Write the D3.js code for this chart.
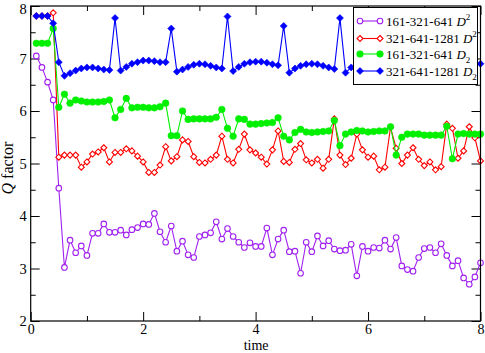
<!DOCTYPE html>
<html><head><meta charset="utf-8">
<script src="https://cdn.jsdelivr.net/npm/d3@7"></script>
<style>
body{margin:0;background:#fff;}
svg{display:block;font-family:"Liberation Serif","Times New Roman",serif;}
</style></head>
<body><svg id="c" width="485" height="353"></svg>
<script>
const times = d3.range(1, 81).map(i => i / 10);
const purpleD2_161 = [7.05,6.83,6.55,6.21,4.53,3.02,3.54,3.30,3.43,3.25,
 3.67,3.67,3.85,3.69,3.69,3.73,3.64,3.74,3.78,3.85,
 3.84,4.05,3.70,3.50,3.81,3.33,3.52,3.26,3.21,3.61,
 3.64,3.68,3.89,3.56,3.76,3.61,3.50,3.40,3.49,3.42,
 3.42,3.77,3.26,3.56,3.73,3.32,3.33,2.91,3.50,3.32,
 3.62,3.43,3.53,3.37,3.34,3.35,3.46,2.86,3.42,3.33,
 3.40,3.39,3.54,3.37,3.59,3.05,2.98,2.95,3.21,3.38,
 3.40,3.30,3.47,3.25,3.05,3.15,2.82,2.70,2.84,3.11];
const redD2_321 = [7.81,7.81,7.81,7.87,5.12,5.16,5.16,5.16,4.93,5.03,
 5.18,5.22,5.30,5.03,5.21,5.21,5.28,5.24,5.14,5.03,
 4.83,4.83,4.97,5.32,5.05,5.13,5.45,5.42,5.13,5.02,
 5.01,5.08,5.16,5.52,5.08,5.01,5.27,5.56,5.26,5.20,
 5.12,4.99,5.26,5.62,5.04,5.02,5.27,5.38,5.07,5.01,
 5.08,4.91,5.08,5.85,5.16,4.98,5.10,5.56,5.26,5.12,
 5.14,4.88,4.93,5.69,5.29,5.00,5.16,5.30,5.08,4.96,
 5.03,4.88,4.94,5.75,5.67,5.10,5.24,5.70,5.49,5.05];
const greenDsub_161 = [7.29,7.29,7.29,7.57,6.07,6.32,6.15,6.21,6.19,6.17,
 6.17,6.17,6.18,6.21,5.87,6.03,6.24,6.06,6.07,6.07,
 6.06,6.06,6.08,6.15,5.53,5.53,6.00,5.84,5.85,5.85,
 5.85,5.85,5.88,6.03,5.67,5.52,5.85,5.84,5.75,5.75,
 5.76,5.77,5.78,5.87,5.52,5.45,5.59,5.65,5.60,5.59,
 5.60,5.61,5.62,5.82,5.34,5.56,5.60,5.63,5.62,5.60,
 5.61,5.62,5.62,5.70,5.16,5.50,5.56,5.56,5.56,5.54,
 5.54,5.54,5.54,5.71,5.09,5.56,5.57,5.56,5.56,5.56];
const blueDsub_321 = [7.81,7.81,7.81,7.67,6.93,6.67,6.72,6.77,6.81,6.83,
 6.83,6.81,6.79,6.78,7.77,6.77,6.84,6.90,6.93,6.96,
 6.96,6.95,6.93,6.93,7.57,6.75,6.79,6.84,6.88,6.90,
 6.89,6.86,6.83,6.81,7.80,6.76,6.84,6.90,6.93,6.94,
 6.94,6.92,6.89,6.87,7.62,6.73,6.81,6.86,6.89,6.90,
 6.89,6.86,6.83,6.80,7.77,6.73,6.83,6.88,6.91,6.92,
 6.92,6.90,6.87,6.84,7.70,6.74,6.82,6.87,6.90,6.91,
 6.91,6.89,6.86,6.83,7.77,6.74,6.80,6.85,6.88,6.90];
const seriesNames = ["161-321-641", "321-641-1281", "161-321-641", "321-641-1281"];
const xTickLabels = [0, 2, 4, 6, 8];
const yTickLabels = [2, 3, 4, 5, 6, 7, 8];

const svg = d3.select("#c");
const L = 30.7, R = 480.5, T = 6, B = 321;
const x = d3.scaleLinear().domain([0, 8]).range([L, R]);
const y = d3.scaleLinear().domain([2, 8]).range([B, T]);

function styleAxis(g){
  g.select(".domain").remove();
  g.selectAll(".tick line").attr("stroke","#000").attr("stroke-width",1);
  g.selectAll(".tick text").attr("fill","#000").attr("font-size",14.5)
   .attr("font-family",'"Liberation Serif","Times New Roman",serif');
}
const xMinor = [1,3,5,7], yMinor = d3.range(2.5, 8, 1);
const xAxisG = svg.append("g").attr("transform",`translate(0,${B})`)
  .call(d3.axisBottom(x).tickValues(xTickLabels).tickFormat(d3.format("d")).tickSize(-9).tickSizeOuter(0).tickPadding(3)).call(styleAxis);
xAxisG.selectAll(".tick text").attr("font-size",14);
svg.append("g").attr("transform",`translate(0,${B})`)
  .call(d3.axisBottom(x).tickValues(xMinor).tickFormat("").tickSize(-5).tickSizeOuter(0)).call(styleAxis);
svg.append("g").attr("transform",`translate(0,${T})`)
  .call(d3.axisTop(x).tickValues(xTickLabels).tickFormat("").tickSize(-9).tickSizeOuter(0)).call(styleAxis);
svg.append("g").attr("transform",`translate(0,${T})`)
  .call(d3.axisTop(x).tickValues(xMinor).tickFormat("").tickSize(-5).tickSizeOuter(0)).call(styleAxis);
const yAxisG = svg.append("g").attr("transform",`translate(${L},0)`)
  .call(d3.axisLeft(y).tickValues(yTickLabels).tickFormat(d3.format("d")).tickSize(-9).tickSizeOuter(0).tickPadding(4)).call(styleAxis);
yAxisG.selectAll(".tick text").filter(d=>d===8).attr("dy","0.5em");
svg.append("g").attr("transform",`translate(${L},0)`)
  .call(d3.axisLeft(y).tickValues(yMinor).tickFormat("").tickSize(-5).tickSizeOuter(0)).call(styleAxis);
svg.append("g").attr("transform",`translate(${R},0)`)
  .call(d3.axisRight(y).tickValues(yTickLabels).tickFormat("").tickSize(-9).tickSizeOuter(0)).call(styleAxis);
svg.append("g").attr("transform",`translate(${R},0)`)
  .call(d3.axisRight(y).tickValues(yMinor).tickFormat("").tickSize(-5).tickSizeOuter(0)).call(styleAxis);

const series = [
  {vals: purpleD2_161, color:"#a020f0", marker:"circle", fill:"#fff", sub:false, r:2.8},
  {vals: redD2_321, color:"#ff0000", marker:"diamond", fill:"#fff", sub:false, r:3.0},
  {vals: greenDsub_161, color:"#00f000", marker:"circle", fill:"#00f000", sub:true, r:3.3},
  {vals: blueDsub_321, color:"#0000ff", marker:"diamond", fill:"#0000ff", sub:true, r:3.5}
];
const line = d3.line().x((d,i)=>x(times[i])).y(d=>y(d));
function marker(g, s, cx, cy){
  let el;
  if(s.marker==="circle"){
    el = g.append("circle").attr("cx",cx).attr("cy",cy).attr("r",s.r);
  } else {
    const r = s.r;
    el = g.append("path").attr("d",`M${cx},${cy-r}L${cx+r},${cy}L${cx},${cy+r}L${cx-r},${cy}Z`);
  }
  return el.attr("fill",s.fill).attr("stroke",s.color).attr("stroke-width",s.fill==="#fff"?1.1:0.6);
}
series.forEach(s=>{
  const g = svg.append("g");
  g.append("path").datum(s.vals).attr("d",line).attr("fill","none")
    .attr("stroke",s.color).attr("stroke-width",1.1);
  s.vals.forEach((v,i)=> marker(g, s, x(times[i]), y(v)));
});

svg.append("rect").attr("x",L).attr("y",T).attr("width",R-L).attr("height",B-T)
  .attr("fill","none").attr("stroke","#000").attr("stroke-width",1.2);

svg.append("text").attr("x",(L+R)/2+0.5).attr("y",350).attr("text-anchor","middle")
  .attr("font-size",14).text("time");
const yl = svg.append("text").attr("transform","translate(13,168) rotate(-90)")
  .attr("text-anchor","middle").attr("font-size",16);
yl.append("tspan").attr("font-style","italic").text("Q");
yl.append("tspan").text(" factor");

const lg = svg.append("g");
lg.append("rect").attr("x",353.5).attr("y",7.5).attr("width",124).attr("height",77)
  .attr("fill","#fff").attr("stroke","#000").attr("stroke-width",1);
const rowsY = [21, 38.5, 54, 71];
series.forEach((s,k)=>{
  const yy = rowsY[k];
  lg.append("line").attr("x1",360).attr("x2",380).attr("y1",yy).attr("y2",yy)
    .attr("stroke",s.color).attr("stroke-width",1.1);
  [360,380].forEach(cx=> marker(lg, s, cx, yy));
  const t = lg.append("text").attr("x",386).attr("y",yy+4.5).attr("font-size",13);
  t.append("tspan").text(seriesNames[k] + " ");
  t.append("tspan").attr("font-style","italic").text("D");
  t.append("tspan").attr("dy", s.sub ? 4 : -6).attr("font-size",9).text("2");
});
</script></body></html>
